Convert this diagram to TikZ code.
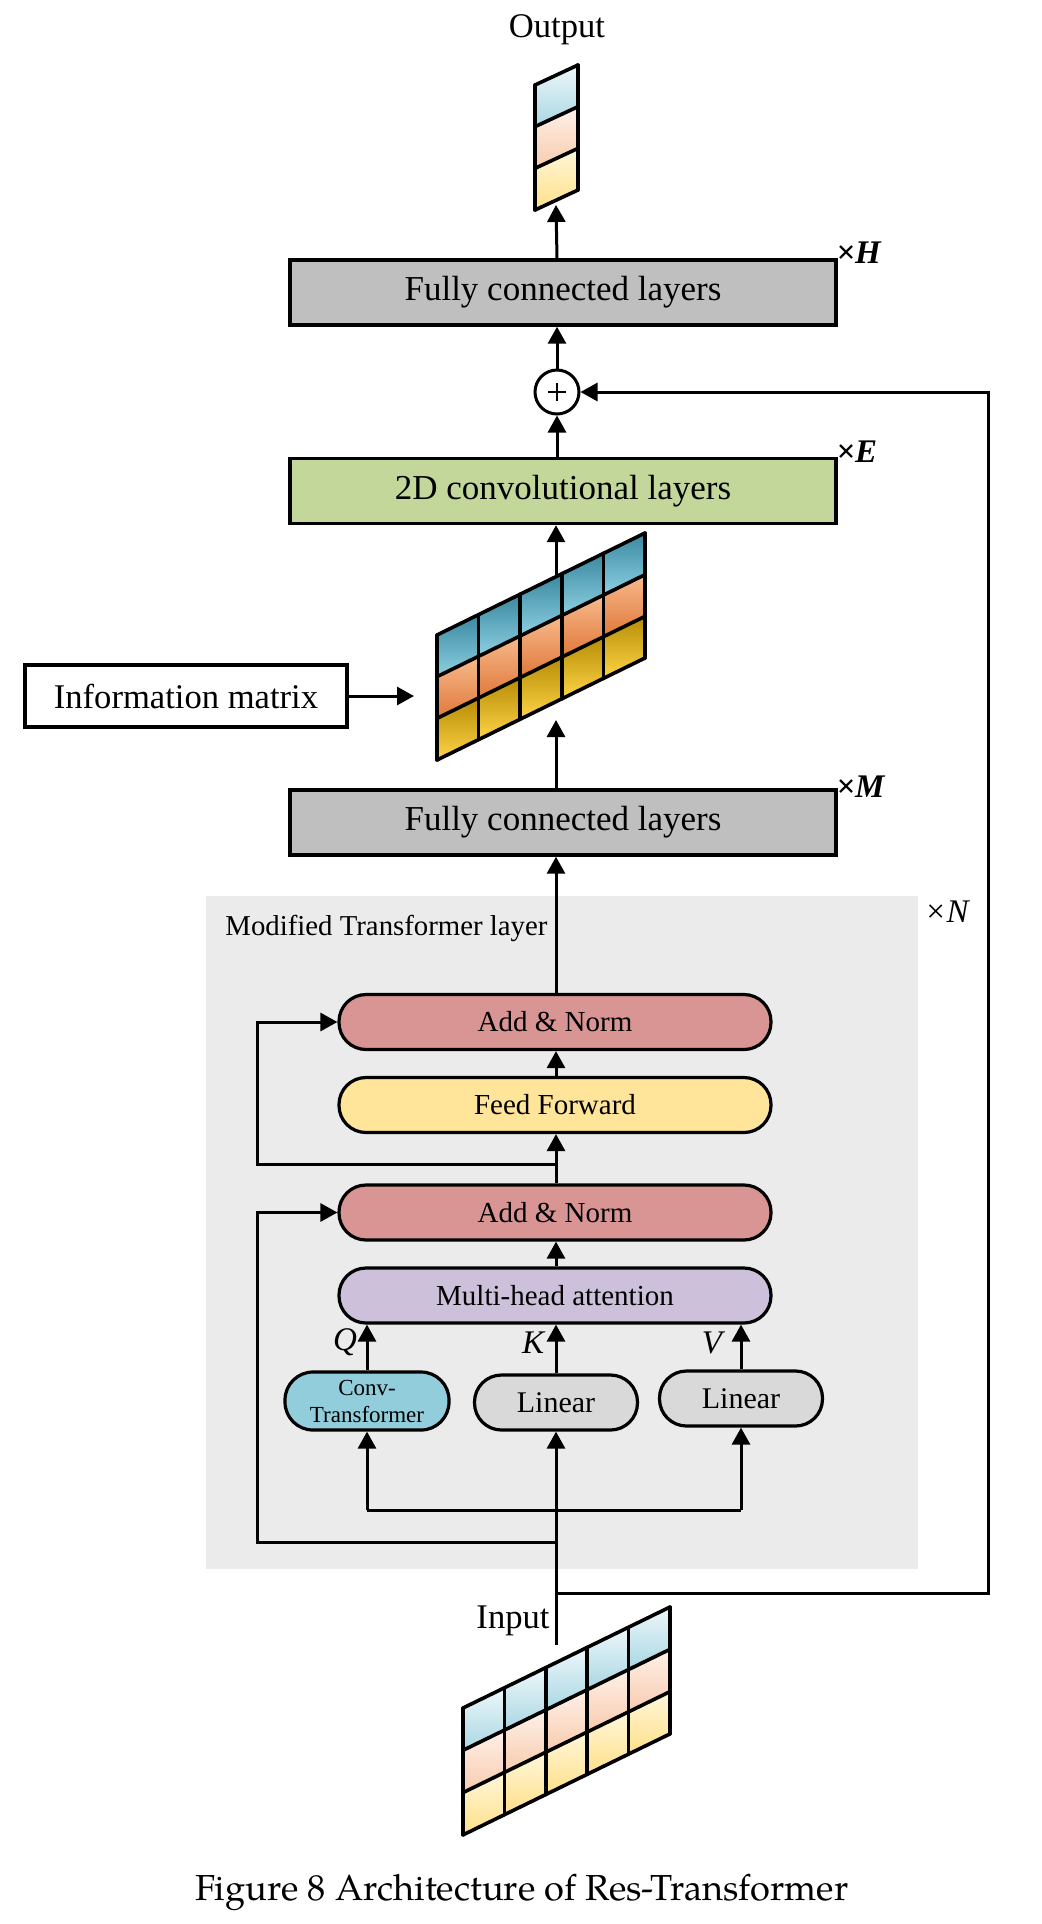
\documentclass[tikz,border=0pt]{standalone}
\usepackage{fontspec}
\setmainfont{Liberation Serif}
\newfontfamily\capfont{texgyrepagella-regular.otf}
\usetikzlibrary{arrows.meta,calc}

\definecolor{fcgray}{HTML}{BFBFBF}
\definecolor{convgreen}{HTML}{C4D79B}
\definecolor{regiongray}{HTML}{EBEBEB}
\definecolor{addnorm}{HTML}{D99594}
\definecolor{ffyellow}{HTML}{FFE599}
\definecolor{mhapurple}{HTML}{CCC0DA}
\definecolor{convblue}{HTML}{92CDDC}
\definecolor{lingray}{HTML}{D9D9D9}
% dark matrix
\definecolor{mbT}{HTML}{3A88A0}
\definecolor{mbB}{HTML}{8DD0E2}
\definecolor{moT}{HTML}{F7BA8C}
\definecolor{moB}{HTML}{E0783A}
\definecolor{myT}{HTML}{B58C05}
\definecolor{myB}{HTML}{FFD447}
% light matrix
\definecolor{lbT}{HTML}{EEF7FA}
\definecolor{lbB}{HTML}{A8D7E3}
\definecolor{loT}{HTML}{FEF1E8}
\definecolor{loB}{HTML}{F8CBAE}
\definecolor{lyT}{HTML}{FFF7DA}
\definecolor{lyB}{HTML}{FFE089}

% #1 x0, #2 y0, #3 ux, #4 uy, #5 vy, #6 last column index, #7 row/top/bottom list
\newcommand\skewgrid[7]{%
  \foreach \rr/\tc/\bc in {#7} {
    \foreach \cc in {0,...,#6} {
      \shade[top color=\tc, bottom color=\bc]
        ($(#1,#2)+\cc*(#3,#4)+\rr*(0,#5)$) -- ++(#3,#4) -- ++(0,#5)
        -- ($(#1,#2)+\cc*(#3,#4)+\rr*(0,#5)+(0,#5)$) -- cycle;
    }
  }
  \pgfmathtruncatemacro\ncp{#6+1}
  \foreach \cc in {0,...,\ncp}
    \draw[gridline] ($(#1,#2)+\cc*(#3,#4)$) -- ++(0,3*#5);
  \foreach \rr in {0,...,3}
    \draw[gridline] ($(#1,#2)+\rr*(0,#5)$) -- ($(#1,#2)+\rr*(0,#5)+\ncp*(#3,#4)$);
}

\begin{document}
\begin{tikzpicture}[x=0.5pt,y=-0.5pt,
  conn/.style={line width=1.5pt, -{Triangle[length=8.5pt,width=9pt]}},
  plainline/.style={line width=1.5pt},
  gridline/.style={line width=1.8pt, line cap=round},
  fcbox/.style={draw, line width=1.7pt, minimum width=273pt, minimum height=32.5pt,
    inner sep=0pt, font=\fontsize{17.5}{20}\selectfont},
  pill/.style={draw, line width=1.6pt, rounded corners=13.5pt, minimum width=216pt,
    minimum height=27.5pt, inner sep=0pt, font=\fontsize{14.5}{17}\selectfont},
  smallpill/.style={draw, line width=1.6pt, rounded corners=13.5pt, minimum width=81.5pt,
    minimum height=27.5pt, inner sep=0pt, font=\fontsize{15}{17}\selectfont},
  lbl/.style={inner sep=0pt, font=\fontsize{17.3}{20}\selectfont},
  qkv/.style={inner sep=0pt, font=\fontsize{16.5}{19}\selectfont\itshape},
  mult/.style={inner sep=0pt, anchor=base west, font=\fontsize{16.5}{19}\selectfont\bfseries\itshape}
]
\useasboundingbox (0,0) rectangle (1041,1924);
\fill[white] (0,0) rectangle (1041,1924);

% grey region
\fill[regiongray] (206,896) rectangle (918,1569);
\node[inner sep=0pt, anchor=base west, font=\fontsize{14.4}{17}\selectfont] (mtl) at (225,935) {Modified Transformer layer};
\node[inner sep=0pt, anchor=base west, font=\fontsize{16.5}{19}\selectfont\itshape] (xN) at (924,922) {×N};

% top part
\node[lbl, anchor=base] (outlbl) at (557,37) {Output};
\skewgrid{535}{85}{43}{-20}{41.67}{0}{0/lbT/lbB,1/loT/loB,2/lyT/lyB}
\coordinate (outb) at (556,205);

\node[fcbox, fill=fcgray] (fcH) at (563,292.5) {Fully connected layers};
\node[mult] (xH) at (836,263) {×H};

\node[draw, circle, line width=1.5pt, minimum size=22pt, inner sep=0pt, fill=white] (circ) at (557,392) {};
\draw[line width=0.9pt] ($(circ.center)+(-9,0)$) -- ($(circ.center)+(9,0)$);
\draw[line width=0.9pt] ($(circ.center)+(0,-9)$) -- ($(circ.center)+(0,9)$);

\node[fcbox, fill=convgreen] (conv) at (563,491) {2D convolutional layers};
\node[mult] (xE) at (836,462) {×E};

% middle matrix
\skewgrid{437}{635}{41.6}{-20.4}{41.67}{4}{0/mbT/mbB,1/moT/moB,2/myT/myB}
\coordinate (mtop) at (556,577);
\coordinate (mbot) at (556,720);
\coordinate (mleft) at (414,696);

\node[draw, line width=1.7pt, minimum width=161pt, minimum height=31pt, inner sep=0pt,
  font=\fontsize{17.3}{20}\selectfont] (info) at (186,696) {Information matrix};

\node[fcbox, fill=fcgray] (fcM) at (563,822.5) {Fully connected layers};
\node[mult] (xM) at (836,797) {×M};

% transformer blocks
\node[pill, fill=addnorm] (an1) at (555,1022) {Add \& Norm};
\node[pill, fill=ffyellow] (ff) at (555,1105) {Feed Forward};
\node[pill, fill=addnorm] (an2) at (555,1212.5) {Add \& Norm};
\node[pill, fill=mhapurple] (mha) at (555,1295.5) {Multi-head attention};

\node[smallpill, fill=convblue, minimum width=82pt, minimum height=29pt, rounded corners=14pt,
  align=center, font=\fontsize{11.5}{13.5}\selectfont] (ct) at (367,1401) {Conv-\\Transformer};
\node[smallpill, fill=lingray] (lm) at (556,1402.5) {Linear};
\node[smallpill, fill=lingray] (lr) at (741,1398.5) {Linear};

\node[qkv] (Q) at (345,1342) {Q};
\node[qkv] (K) at (533,1343) {K};
\node[qkv] (V) at (712,1343) {V};

% input
\node[lbl, anchor=base] (inlbl) at (513,1628) {Input};
\skewgrid{463}{1708}{41.4}{-20.2}{42.3}{4}{0/lbT/lbB,1/loT/loB,2/lyT/lyB}

% helper coordinates
\coordinate (inp) at (556,1645);
\coordinate (bus) at (556,1510);
\coordinate (r1) at (556,1542);
\coordinate (r2) at (556,1164);
\coordinate (r3) at (556,1593);
\coordinate (lft) at (257,1000);
\coordinate (rgt) at (988,1000);

% connectors
\draw[conn] (fcH.north -| circ) -- (outb);
\draw[conn] (circ.north) -- (fcH.south -| circ);
\draw[conn] (conv.north -| circ) -- (circ.south);
\draw[conn] (mtop) -- (conv.south -| mtop);
\draw[conn] (fcM.north -| mbot) -- (mbot);
\draw[conn] (info.east) -- (mleft);
\draw[conn] (an1.north -| mbot) -- (fcM.south -| mbot);
\draw[conn] (ff.north -| mbot) -- (an1.south -| mbot);
\draw[conn] (an2.north -| mbot) -- (ff.south -| mbot);
\draw[conn] (mha.north -| mbot) -- (an2.south -| mbot);
\draw[conn] (ct.north) -- (mha.south -| ct.north);
\draw[conn] (lm.north) -- (mha.south -| lm.north);
\draw[conn] (lr.north) -- (mha.south -| lr.north);
\draw[conn] (inp) -- (lm.south);
\draw[plainline] (bus -| ct.south) -- (bus -| lr.south);
\draw[conn] (bus -| ct.south) -- (ct.south);
\draw[conn] (bus -| lr.south) -- (lr.south);
\draw[conn] (r1) -- (r1 -| lft) |- (an2.west);
\draw[conn] (r2) -- (r2 -| lft) |- (an1.west);
\draw[conn] (r3) -- (r3 -| rgt) |- (circ.east);

% caption
\node[inner sep=0pt, anchor=base, font=\capfont\fontsize{18.1}{22}\selectfont] (cap) at (522,1900) {Figure 8 Architecture of Res-Transformer};
\end{tikzpicture}
\end{document}
